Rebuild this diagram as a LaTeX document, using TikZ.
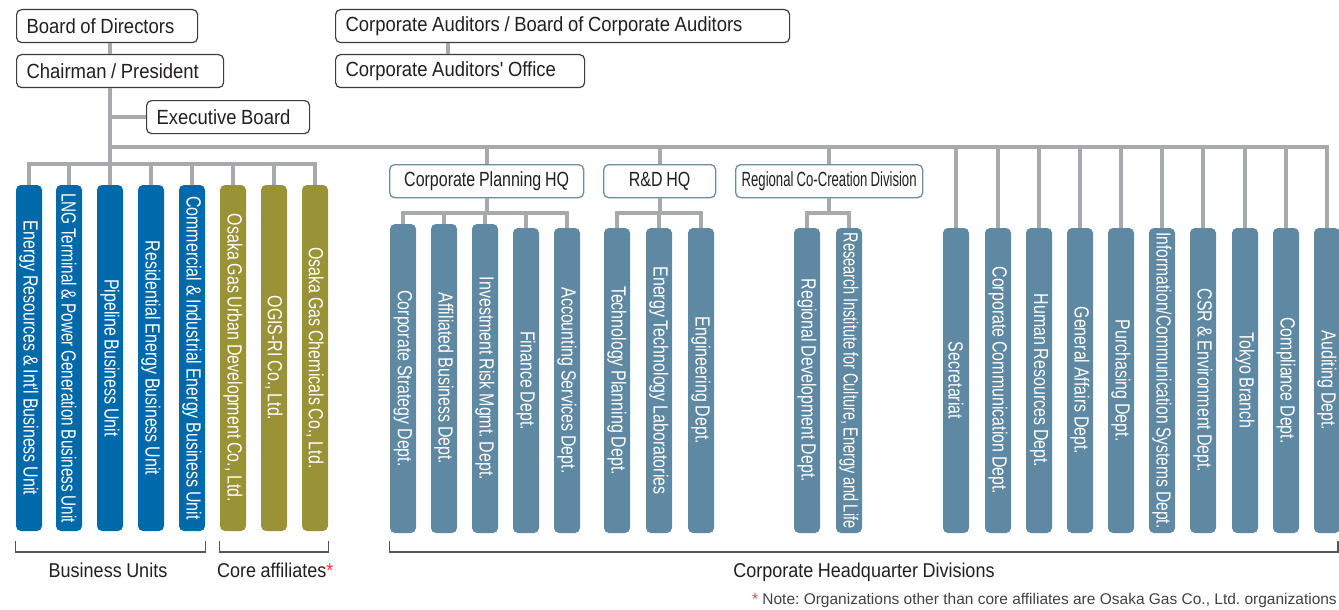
\documentclass[tikz,border=0pt]{standalone}
\usepackage{fontspec}
\usepackage{graphicx}
\setmainfont{Liberation Sans}
\newfontfamily\condfont{Liberation Sans}[FakeStretch=0.78,WordSpace=0.85]
\newfontfamily\semifont{Liberation Sans}[FakeStretch=0.9,WordSpace=0.9]
\frenchspacing
\definecolor{lineg}{HTML}{A7A9AC}
\definecolor{bublue}{HTML}{0069AA}
\definecolor{olive}{HTML}{9A9236}
\definecolor{slate}{HTML}{5F88A2}
\definecolor{hqline}{HTML}{6A8FA5}
\definecolor{txt}{HTML}{231F20}
\definecolor{boxdk}{HTML}{3C3C3C}
\definecolor{brk}{HTML}{555555}
\definecolor{astred}{HTML}{E8383D}
\newsavebox\fitbox
\newcommand\fitto[2]{\sbox\fitbox{#2}\ifdim\wd\fitbox>#1\relax\resizebox{#1}{\height}{\usebox\fitbox}\else\usebox\fitbox\fi}
\newcommand\barlab[2]{\rotatebox{-90}{\fitto{#1}{#2}}}
\tikzset{
  conn/.style={draw=lineg, line width=4pt, line join=miter},
  topbox/.style={draw=boxdk, line width=1.2pt, rounded corners=5pt, inner xsep=10pt, inner ysep=0pt,
    minimum height=33pt, align=flush left, anchor=north west, text=txt, font=\semifont\fontsize{20.5}{24}\selectfont},
  hqbox/.style={draw=hqline, line width=1.3pt, rounded corners=5pt, inner sep=0pt,
    minimum height=33pt, anchor=north west, text=txt, font=\condfont\fontsize{20.5}{24}\selectfont},
  barbase/.style={rounded corners=5pt, minimum width=26pt, inner sep=0pt, text=white,
    font=\condfont\fontsize{20.5}{24}\selectfont},
  bubar/.style={barbase, fill=bublue, minimum height=346pt},
  afbar/.style={barbase, fill=olive, minimum height=346pt},
  hqbar/.style={barbase, fill=slate, minimum height=305pt},
  hqbartall/.style={barbase, fill=slate, minimum height=309pt},
  brack/.style={draw=brk, line width=1.2pt},
  lab/.style={text=txt, font=\semifont\fontsize{20}{24}\selectfont, inner sep=0pt},
  notelab/.style={text=txt!85, font=\fontsize{15.5}{18}\selectfont, inner sep=0pt}
}
\begin{document}
\begin{tikzpicture}[x=1pt,y=-1pt]
\useasboundingbox[fill=white] (0,0) rectangle (1339,610);
% named reference coordinates
\coordinate (trunk) at (110,0);
\coordinate (audx) at (448,0);
\coordinate (mbus) at (0,146.5);
\coordinate (bbus) at (0,164);
\coordinate (sbus) at (0,213);
\coordinate (brtop) at (0,541);
\coordinate (brbot) at (0,552);
% top boxes
\node[topbox, text width=161pt] (board) at (16,9) {Board of Directors};
\node[topbox, text width=187pt] (chair) at (16,54) {Chairman / President};
\node[topbox, text width=143pt] (exec) at (146,100) {Executive Board};
\node[topbox, text width=434pt] (aud) at (335,9) {Corporate Auditors / Board of Corporate Auditors};
\node[topbox, text width=229pt] (office) at (335,54) {Corporate Auditors\symbol{"0027} Office};
% HQ boxes
\node[hqbox, minimum width=194pt] (cp) at (389,164) {Corporate Planning HQ};
\node[hqbox, minimum width=112pt] (rd) at (603,164) {R\&D HQ};
\node[hqbox, minimum width=187pt] (rc) at (735,164) {\fitto{175pt}{Regional Co-Creation Division}};
% business units
\node[bubar] (b1) at (29,358) {\barlab{330pt}{Energy Resources \& Int\symbol{"0027}l Business Unit}};
\node[bubar] (b2) at (69,358) {\barlab{330pt}{LNG Terminal \& Power Generation Business Unit}};
\node[bubar] (b3) at (110,358) {\barlab{330pt}{Pipeline Business Unit}};
\node[bubar] (b4) at (151,358) {\barlab{330pt}{Residential Energy Business Unit}};
\node[bubar] (b5) at (192,358) {\barlab{330pt}{Commercial \& Industrial Energy Business Unit}};
\node[afbar] (b6) at (233,358) {\barlab{330pt}{Osaka Gas Urban Development Co., Ltd.}};
\node[afbar] (b7) at (274,358) {\barlab{330pt}{OGIS-RI Co., Ltd.}};
\node[afbar] (b8) at (315,358) {\barlab{330pt}{Osaka Gas Chemicals Co., Ltd.}};
% corporate planning
\node[hqbartall] (c1) at (403,378.5) {\barlab{296pt}{Corporate Strategy Dept.}};
\node[hqbartall] (c2) at (444,378.5) {\barlab{296pt}{Affiliated Business Dept.}};
\node[hqbartall] (c3) at (485,378.5) {\barlab{296pt}{Investment Risk Mgmt. Dept.}};
\node[hqbar] (c4) at (526,380.5) {\barlab{296pt}{Finance Dept.}};
\node[hqbar] (c5) at (567,380.5) {\barlab{296pt}{Accounting Services Dept.}};
% R&D
\node[hqbar] (d1) at (617,380.5) {\barlab{296pt}{Technology Planning Dept.}};
\node[hqbar] (d2) at (659,380.5) {\barlab{296pt}{Energy Technology Laboratories}};
\node[hqbar] (d3) at (701,380.5) {\barlab{296pt}{Engineering Dept.}};
% regional
\node[hqbar] (e1) at (807,380.5) {\barlab{296pt}{Regional Development Dept.}};
\node[hqbar] (e2) at (849,380.5) {\barlab{296pt}{Research Institute for Culture, Energy and Life}};
% right departments
\node[hqbar] (r1) at (956,380.5) {\barlab{296pt}{Secretariat}};
\node[hqbar] (r2) at (998,380.5) {\barlab{296pt}{Corporate Communication Dept.}};
\node[hqbar] (r3) at (1039,380.5) {\barlab{296pt}{Human Resources Dept.}};
\node[hqbar] (r4) at (1080,380.5) {\barlab{296pt}{General Affairs Dept.}};
\node[hqbar] (r5) at (1121,380.5) {\barlab{296pt}{Purchasing Dept.}};
\node[hqbar] (r6) at (1162,380.5) {\barlab{296pt}{Information/Communication Systems Dept.}};
\node[hqbar] (r7) at (1203,380.5) {\barlab{296pt}{CSR \& Environment Dept.}};
\node[hqbar] (r8) at (1245,380.5) {\barlab{296pt}{Tokyo Branch}};
\node[hqbar] (r9) at (1286,380.5) {\barlab{296pt}{Compliance Dept.}};
\node[hqbar] (r10) at (1327,380.5) {\barlab{296pt}{Auditing Dept.}};
% connectors: top
\draw[conn] (board.south -| trunk) -- (chair.north -| trunk);
\draw[conn] (chair.south -| trunk) -- (trunk |- bbus);
\draw[conn] (exec.west -| trunk) -- (exec.west);
\draw[conn] (aud.south -| audx) -- (office.north -| audx);
% main bus
\draw[conn] (trunk |- mbus) -- (r10.north |- mbus) -- (r10.north);
\foreach \n in {r1,r2,r3,r4,r5,r6,r7,r8,r9}{\draw[conn] (\n.north |- mbus) -- (\n.north);}
\foreach \n in {cp,rd,rc}{\draw[conn] (\n.north |- mbus) -- (\n.north);}
% business bus
\draw[conn] (b1.north) -- (b1.north |- bbus) -- (b8.north |- bbus) -- (b8.north);
\foreach \n in {b2,b3,b4,b5,b6,b7}{\draw[conn] (\n.north |- bbus) -- (\n.north);}
% HQ sub-buses
\draw[conn] (cp.south) -- (cp.south |- sbus);
\draw[conn] (c1.north) -- (c1.north |- sbus) -- (c5.north |- sbus) -- (c5.north);
\foreach \n in {c2,c3,c4}{\draw[conn] (\n.north |- sbus) -- (\n.north);}
\draw[conn] (rd.south) -- (rd.south |- sbus);
\draw[conn] (d1.north) -- (d1.north |- sbus) -- (d3.north |- sbus) -- (d3.north);
\draw[conn] (d2.north |- sbus) -- (d2.north);
\draw[conn] (rc.south) -- (rc.south |- sbus);
\draw[conn] (e1.north) -- (e1.north |- sbus) -- (e2.north |- sbus) -- (e2.north);
% brackets
\draw[brack] (b1.west |- brtop) -- (b1.west |- brbot) -- (b5.east |- brbot) -- (b5.east |- brtop);
\draw[brack] (b6.west |- brtop) -- (b6.west |- brbot) -- (b8.east |- brbot) -- (b8.east |- brtop);
\draw[brack] (c1.west |- brtop) -- (c1.west |- brbot) -- (1338,552) -- (1338,541);
% labels
\node[lab, anchor=base] (bul) at (108,577) {Business Units};
\node[lab, anchor=base west] (cal) at (217,577) {Core affiliates\textcolor{astred}{*}};
\node[lab, anchor=base] (chd) at (864,577) {Corporate Headquarter Divisions};
\node[notelab, anchor=base east] (note) at (1337,604) {\textcolor{astred}{*} Note: Organizations other than core affiliates are Osaka Gas Co., Ltd. organizations};
\end{tikzpicture}
\end{document}
